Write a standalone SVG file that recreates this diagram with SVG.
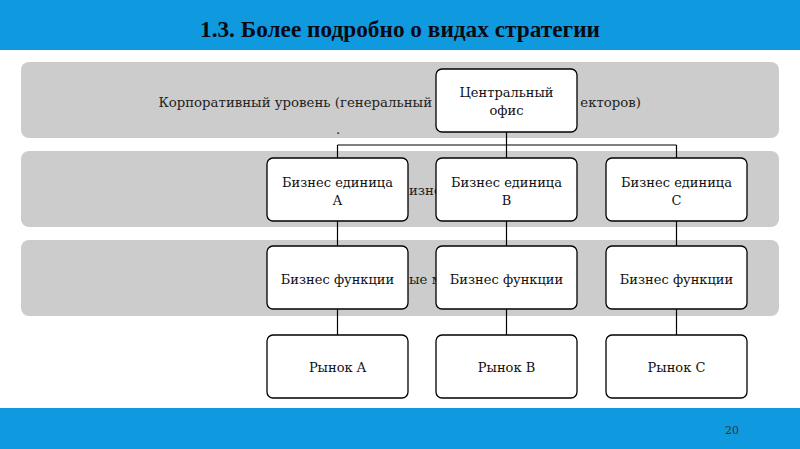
<svg xmlns="http://www.w3.org/2000/svg" width="800" height="449" viewBox="0 0 800 449">
<style>
.bar{fill:#0f9adf}
.band{fill:#cccccc}
.box{fill:#ffffff;stroke:#000000;stroke-width:1.3}
.t{font-family:"DejaVu Serif","Liberation Serif",serif;font-size:13px;fill:#111111;text-anchor:middle}
.bt{font-family:"DejaVu Serif","Liberation Serif",serif;font-size:13.3px;fill:#222222}
.c{fill:none;stroke:#000000;stroke-width:1.2}
</style>
<rect width="800" height="449" fill="#ffffff"/>
<rect class="bar" x="0" y="0" width="800" height="50"/>
<text x="400" y="37" font-family="'Liberation Serif',serif" font-weight="bold" font-size="23" fill="#0a0a14" text-anchor="middle" textLength="400" lengthAdjust="spacingAndGlyphs">1.3. Более подробно о видах стратегии</text>
<rect class="bar" x="0" y="408" width="800" height="41"/>
<text x="732" y="434" font-family="'DejaVu Serif',serif" font-size="11" fill="#333333" text-anchor="middle">20</text>

<g id="bands">
<rect class="band" x="21" y="62" width="758" height="76" rx="8"/>
<rect class="band" x="21" y="151" width="758" height="76" rx="8"/>
<rect class="band" x="21" y="240" width="758" height="76" rx="8"/>
<text class="bt" x="432" y="107" text-anchor="end">Корпоративный уровень (генеральный</text>
<text class="bt" x="641" y="107" text-anchor="end">екторов)</text>
<text class="bt" x="338" y="134" text-anchor="middle" font-size="8">.</text>
<text class="bt" x="409" y="195">изне</text>
<text class="bt" x="409" y="284">ые м</text>
</g>

<g id="connectors">
<path class="c" d="M506.5 132V145M337.5 145H676.5M337.5 145V158M506.5 145V158M676.5 145V158"/>
<path class="c" d="M337.5 221V246M506.5 221V246M676.5 221V246"/>
<path class="c" d="M337.5 309V335M506.5 309V335M676.5 309V335"/>
</g>

<g id="central"><rect class="box" x="436" y="69" width="141" height="63" rx="6"/><text class="t" x="506.5" y="97">Центральный</text><text class="t" x="506.5" y="115">офис</text></g>

<g id="unitA"><rect class="box" x="267" y="158" width="141" height="63" rx="6"/><text class="t" x="337.5" y="187">Бизнес единица</text><text class="t" x="337.5" y="205">A</text></g>
<g id="unitB"><rect class="box" x="436" y="158" width="141" height="63" rx="6"/><text class="t" x="506.5" y="187">Бизнес единица</text><text class="t" x="506.5" y="205">B</text></g>
<g id="unitC"><rect class="box" x="606" y="158" width="141" height="63" rx="6"/><text class="t" x="676.5" y="187">Бизнес единица</text><text class="t" x="676.5" y="205">C</text></g>

<g id="funcA"><rect class="box" x="267" y="246" width="141" height="63" rx="6"/><text class="t" x="337.5" y="284">Бизнес функции</text></g>
<g id="funcB"><rect class="box" x="436" y="246" width="141" height="63" rx="6"/><text class="t" x="506.5" y="284">Бизнес функции</text></g>
<g id="funcC"><rect class="box" x="606" y="246" width="141" height="63" rx="6"/><text class="t" x="676.5" y="284">Бизнес функции</text></g>

<g id="marketA"><rect class="box" x="267" y="335" width="141" height="63" rx="6"/><text class="t" x="337.5" y="372">Рынок A</text></g>
<g id="marketB"><rect class="box" x="436" y="335" width="141" height="63" rx="6"/><text class="t" x="506.5" y="372">Рынок B</text></g>
<g id="marketC"><rect class="box" x="606" y="335" width="141" height="63" rx="6"/><text class="t" x="676.5" y="372">Рынок C</text></g>
</svg>
